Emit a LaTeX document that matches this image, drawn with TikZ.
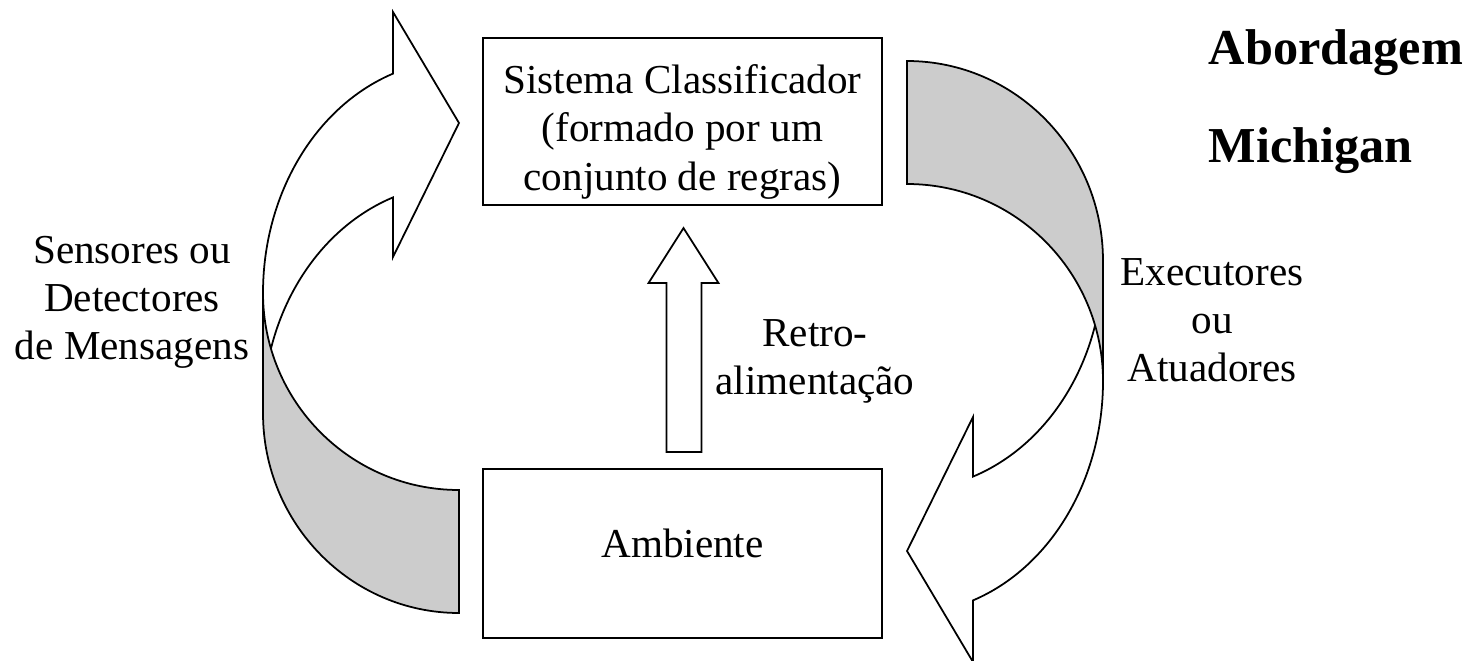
\documentclass[tikz,border=0pt]{standalone}
\usepackage{fontspec}
\setmainfont{Liberation Serif}
\definecolor{ribbon}{HTML}{CCCCCC}

% curved ribbon arrow (left one); the right one is the same turned round
\newcommand{\ribbonarrow}[1]{
  \begin{scope}[#1]
    \draw[fill=white] (263,367) arc[start angle=180, end angle=109.7, x radius=196, y radius=233]
      -- (393,648) -- (459,537) -- (393,403) -- (393,462.6)
      arc[start angle=109.7, end angle=180, x radius=196, y radius=229] -- cycle;
    \draw[fill=ribbon] (263,367) -- (263,247)
      arc[start angle=180, end angle=270, x radius=196, y radius=200] -- (459,170)
      arc[start angle=270, end angle=180, x radius=196, y radius=197] -- cycle;
  \end{scope}}

\begin{document}
\begin{tikzpicture}[x=0.01cm, y=0.01cm, line width=0.5pt,
every node/.style = {font=\fontsize{11.7}{13.7}\selectfont},
block/.style = {rectangle, draw=black, line width=0.5pt, align=center, minimum width=3.99cm, inner sep=0pt},
txt/.style = {align=center, inner sep=0pt},
title/.style = {anchor=base west, inner sep=0pt, font=\fontsize{14.3}{16}\selectfont\bfseries}]
\useasboundingbox (0,0) rectangle (1482,660);
\ribbonarrow{}
\ribbonarrow{rotate around={180:(683,323)}}
\node[block, minimum height=1.67cm, text height=1.37cm, text depth=0cm] at (682.5,538.5) (cls) {Sistema Classificador\\(formado por um\\conjunto de regras)};
\node[block, minimum height=1.69cm, text depth=0.2cm] at (682.5,106.5) (amb) {Ambiente};
\draw (amb.north) ++(-16,16) -- ++(0,169) -- ++(-18,0) -- ++(35,55) -- ++(35,-55) -- ++(-17,0) -- ++(0,-169) -- cycle;
\node[txt] at (132,358) (sens) {Sensores ou\\Detectores\\de Mensagens};
\node[txt] at (1212,340) (exec) {Executores\\ou\\Atuadores};
\node[txt] at (815,299) (retro) {Retro-\\alimentação};
\node[title] at (1208,595) (abord) {Abordagem};
\node[title] at (1208,498) (mich) {Michigan};
\end{tikzpicture}
\end{document}
